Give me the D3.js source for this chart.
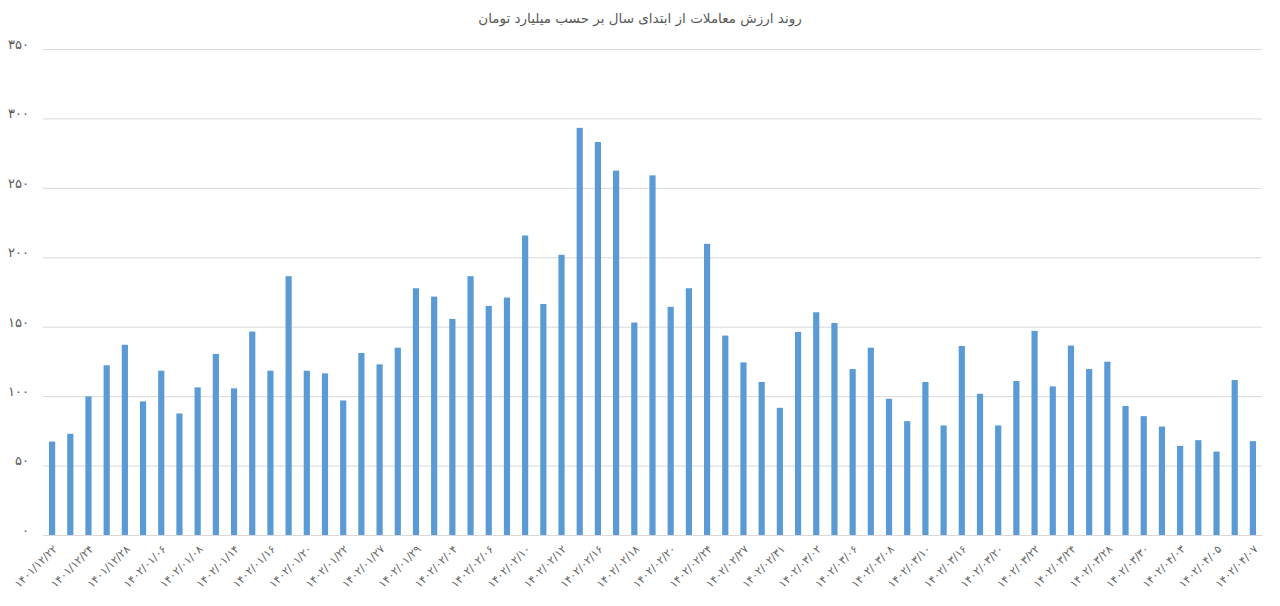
<!DOCTYPE html>
<html>
<head>
<meta charset="utf-8">
<script src="https://cdn.jsdelivr.net/npm/d3@7"></script>
<style>
  body { margin: 0; background: #fff; }
  text { font-family: "DejaVu Sans", sans-serif; }
</style>
</head>
<body>
<div id="chart"></div>
<script>
// chart title
var title = "روند ارزش معاملات از ابتدای سال بر حسب میلیارد تومان";

// trading value per day (billion toman), one per bar
var values = [67.3, 72.9, 99.8, 122.2, 137, 96.2, 118.3, 87.5, 106.3, 130.4,
  105.6, 146.5, 118.3, 186.4, 118.3, 116.4, 96.9, 131.1, 122.9, 134.9,
  177.7, 171.7, 155.6, 186.4, 165, 171, 215.7, 166.4, 201.8, 293.2,
  283, 262.4, 153, 259, 164.3, 177.7, 209.7, 143.6, 124.3, 110.2,
  91.6, 146.2, 160.4, 152.7, 119.5, 134.9, 98.1, 82, 110.2, 78.9,
  136.1, 101.7, 78.9, 110.9, 147, 107, 136.4, 119.5, 124.8, 92.9,
  85.6, 78.1, 64.2, 68.3, 60.1, 111.6, 67.6];

// date labels, shown under every other bar
var tickLabels = ["1401/12/22", "1401/12/24", "1401/12/28", "1402/01/06", "1402/01/08",
  "1402/01/14", "1402/01/16", "1402/01/20", "1402/01/22", "1402/01/27", "1402/01/29",
  "1402/02/04", "1402/02/06", "1402/02/10", "1402/02/12", "1402/02/16", "1402/02/18",
  "1402/02/20", "1402/02/24", "1402/02/27", "1402/02/31", "1402/03/02", "1402/03/06",
  "1402/03/08", "1402/03/10", "1402/03/16", "1402/03/20", "1402/03/22", "1402/03/24",
  "1402/03/28", "1402/03/30", "1402/04/03", "1402/04/05", "1402/04/07"];

var yTicks = [0, 50, 100, 150, 200, 250, 300, 350];

// latin digits -> persian digits
function fa(s) {
  return String(s).replace(/[0-9]/g, function(c) { return "۰۱۲۳۴۵۶۷۸۹"[+c]; });
}

var svgWidth = 1280;
var svgHeight = 606;

var margin = { top: 49, right: 18, bottom: 71, left: 43 };

var width = svgWidth - margin.left - margin.right;
var height = svgHeight - margin.top - margin.bottom;

var svg = d3.select("#chart")
            .append("svg")
            .attr("width", svgWidth)
            .attr("height", svgHeight);

var chartGroup = svg.append("g")
                    .attr("transform", `translate(${margin.left}, ${margin.top})`);

// scales
var categories = values.map((d, i) => i);

var xBandScale = d3.scaleBand()
    .domain(categories)
    .range([0, width])
    .paddingInner(0.66)
    .paddingOuter(0.33);

var yLinearScale = d3.scaleLinear()
    .domain([0, 350])
    .range([height, 0]);

// y axis with gridlines
var leftAxis = d3.axisLeft(yLinearScale)
    .tickValues(yTicks)
    .tickSize(-width)
    .tickPadding(14)
    .tickFormat(d => fa(d));

var yAxis = chartGroup.append("g")
    .call(leftAxis);

yAxis.select(".domain").remove();
yAxis.selectAll(".tick line")
    .attr("stroke", "#d9d9d9");
yAxis.selectAll(".tick text")
    .attr("fill", "#595959")
    .attr("font-size", "13px")
    .attr("dy", "-0.05em");

// x axis labels (every other bar)
var bottomAxis = d3.axisBottom(xBandScale)
    .tickSize(0)
    .tickFormat(i => i % 2 === 0 ? fa(tickLabels[i / 2]) : "");

var xAxis = chartGroup.append("g")
    .attr("transform", `translate(0, ${height})`)
    .call(bottomAxis);

xAxis.select(".domain").attr("stroke", "#d9d9d9");
xAxis.selectAll(".tick text")
    .attr("fill", "#666")
    .attr("font-size", "11px")
    .attr("direction", "ltr")
    .attr("text-anchor", "end")
    .attr("transform", "translate(3, 12) rotate(-45)")
    .attr("dy", "0.35em")
    .attr("y", 0);

// bars
chartGroup.selectAll("rect.bar")
    .data(values)
    .enter()
    .append("rect")
    .attr("class", "bar")
    .attr("x", (d, i) => xBandScale(i))
    .attr("y", d => yLinearScale(d))
    .attr("width", xBandScale.bandwidth())
    .attr("height", d => height - yLinearScale(d))
    .attr("fill", "#5b9bd5");

// title
svg.append("text")
    .attr("x", svgWidth / 2)
    .attr("y", 23)
    .attr("text-anchor", "middle")
    .attr("direction", "rtl")
    .attr("fill", "#595959")
    .attr("font-size", "13.5px")
    .text(title);
</script>
</body>
</html>
